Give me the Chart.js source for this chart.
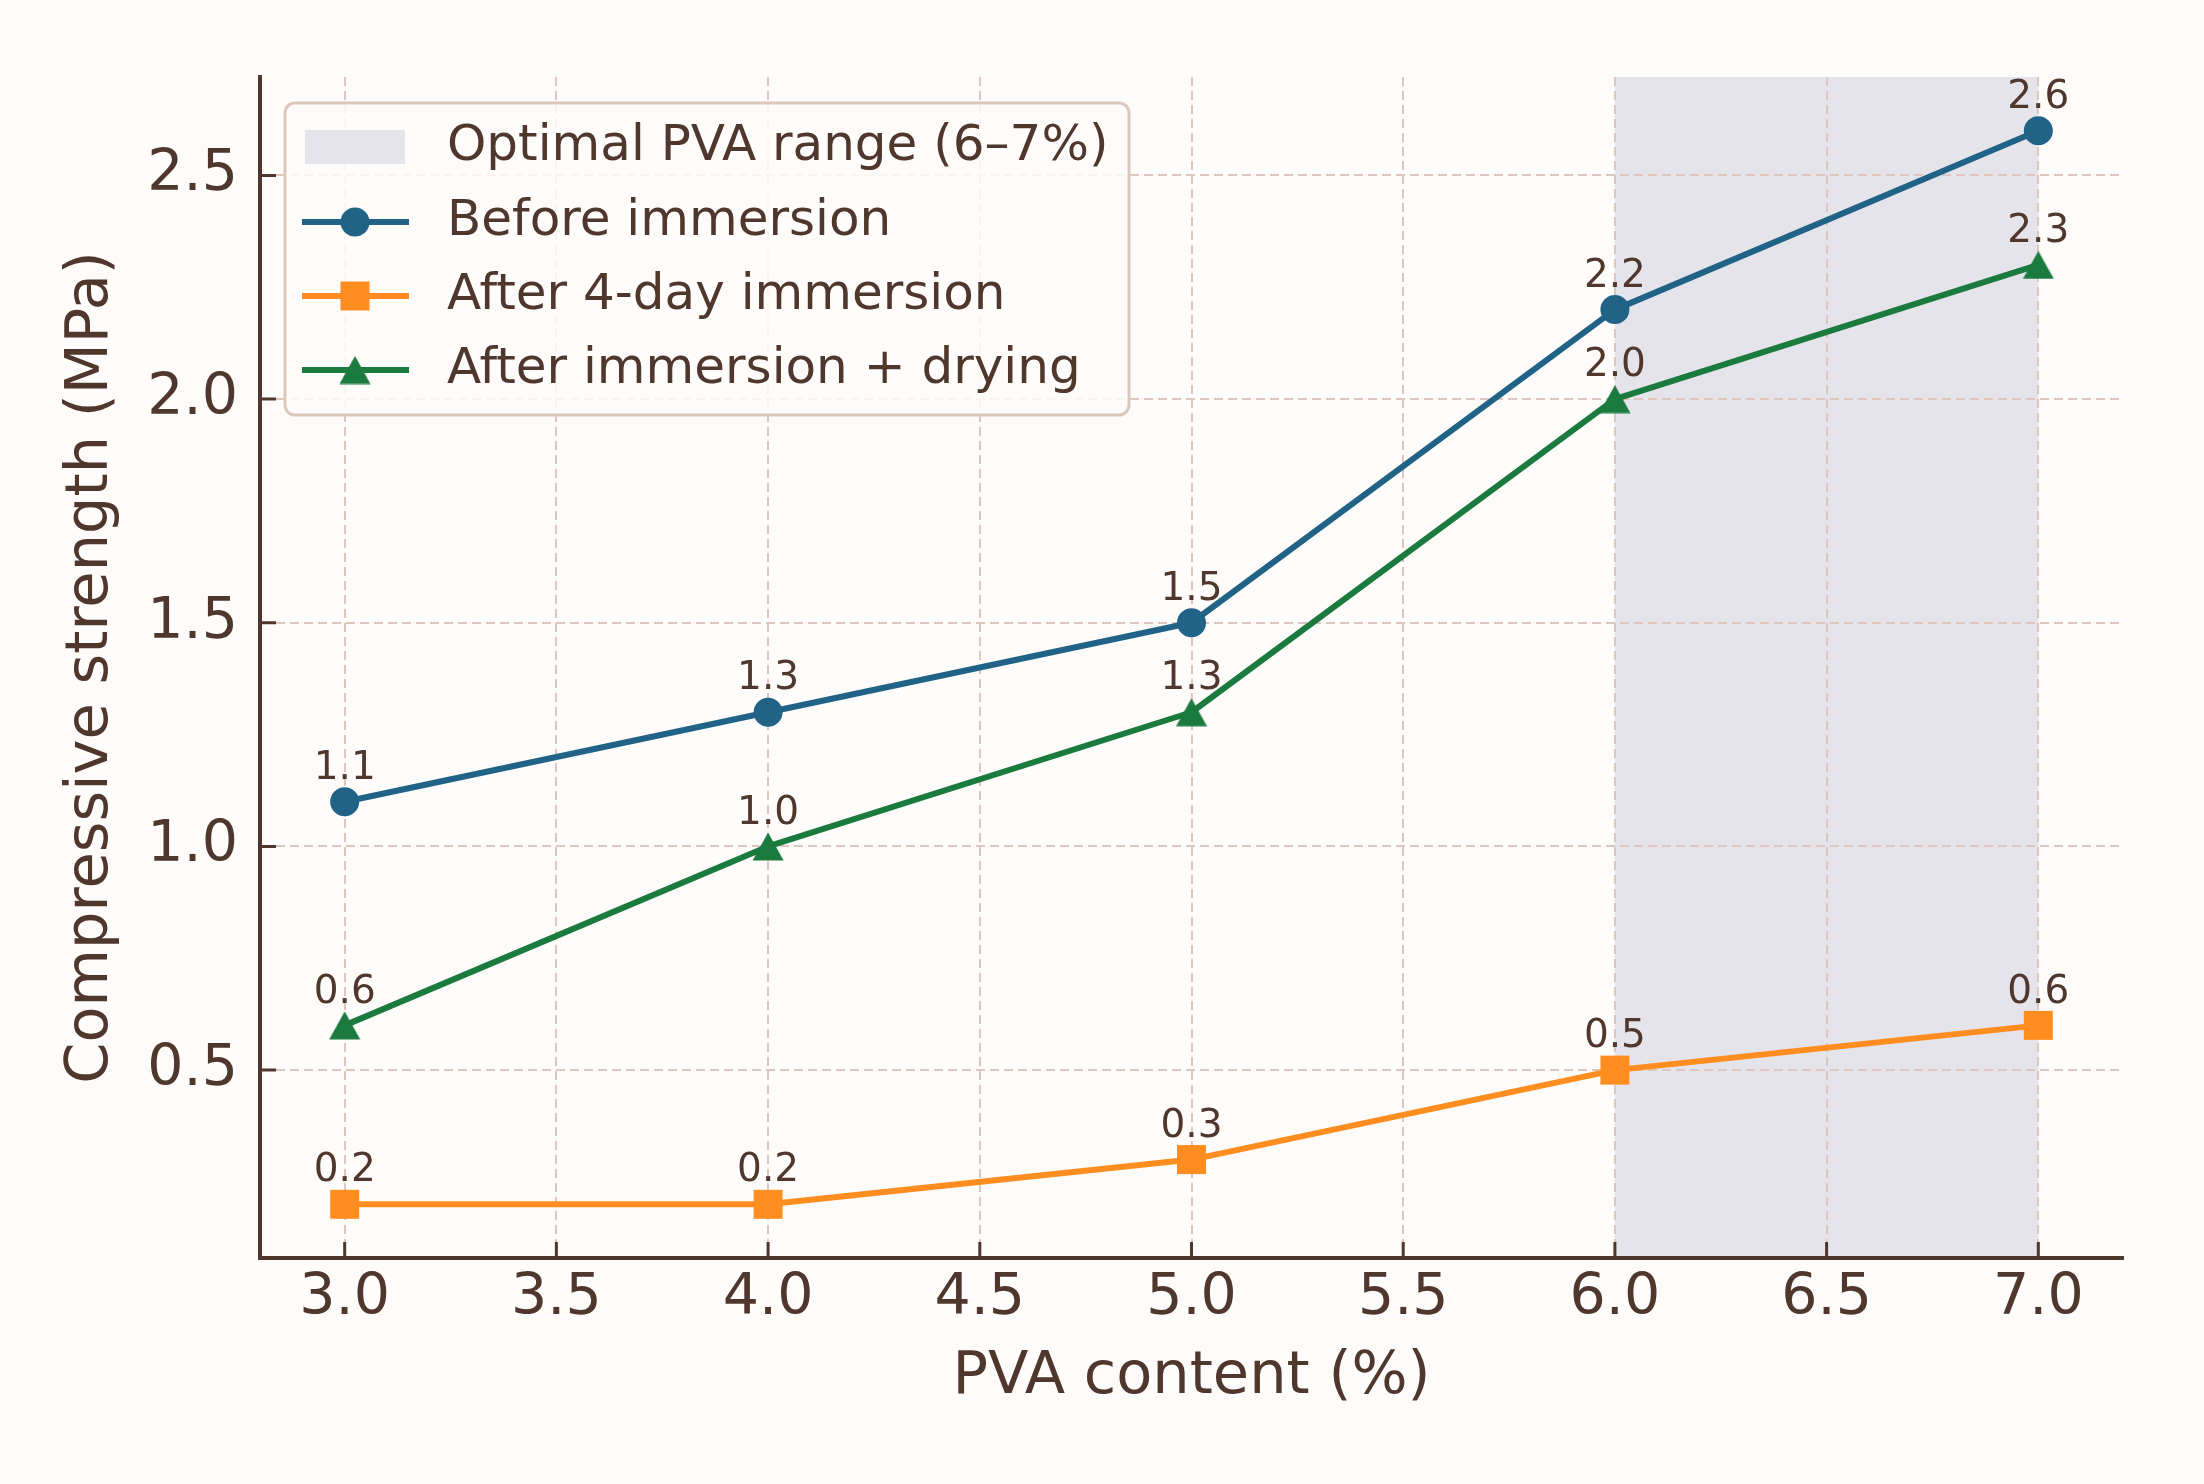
<!DOCTYPE html>
<html><head><meta charset="utf-8">
<script src="https://cdn.jsdelivr.net/npm/chart.js@4.4.1/dist/chart.umd.min.js"></script>
<style>html,body{margin:0;padding:0;background:#fdfcfa;} canvas{display:block;}</style>
</head><body>
<canvas id="c" width="2204" height="1484" style="width:2204px;height:1484px"></canvas>
<script>
// ---- data ----
const pvaContent = [3.0, 4.0, 5.0, 6.0, 7.0];
const beforeImmersion = [1.1, 1.3, 1.5, 2.2, 2.6];
const after4DayImmersion = [0.2, 0.2, 0.3, 0.5, 0.6];
const afterImmersionDrying = [0.6, 1.0, 1.3, 2.0, 2.3];
const seriesNames = ['Before immersion', 'After 4-day immersion', 'After immersion + drying'];
const xTicks = [3.0, 3.5, 4.0, 4.5, 5.0, 5.5, 6.0, 6.5, 7.0];
const yTicks = [0.5, 1.0, 1.5, 2.0, 2.5];
const optimalRange = [6, 7];
const optimalLabel = 'Optimal PVA range (6–7%)';
const xTitle = 'PVA content (%)';
const yTitle = 'Compressive strength (MPa)';

// ---- style ----
const FONT = "'DejaVu Sans', sans-serif";
const TEXT = '#4f372d';
const AXIS = '#4f372d';
const GRID = '#dcc6bd';
const SHADE = '#e6e4eb';
const BG = '#fdfcfa';
const BLUE = '#216387';
const ORANGE = '#ff8d20';
const GREEN = '#1b7a3e';

function makeTriangle(color) {
  const c = document.createElement('canvas');
  c.width = 32; c.height = 29;
  const g = c.getContext('2d');
  g.fillStyle = color;
  g.beginPath();
  g.moveTo(16, 0.5); g.lineTo(31.5, 28.5); g.lineTo(0.5, 28.5);
  g.closePath(); g.fill();
  return c;
}
const triangle = makeTriangle(GREEN);

function pts(ys) { return pvaContent.map((x, i) => ({x: x, y: ys[i]})); }

const datasets = [
  {label: seriesNames[0], data: pts(beforeImmersion), borderColor: BLUE, backgroundColor: BLUE,
   pointStyle: 'circle', pointRadius: 14.5, pointBorderWidth: 0},
  {label: seriesNames[1], data: pts(after4DayImmersion), borderColor: ORANGE, backgroundColor: ORANGE,
   pointStyle: 'rect', pointRadius: 20.5, pointBorderWidth: 0},
  {label: seriesNames[2], data: pts(afterImmersionDrying), borderColor: GREEN, backgroundColor: GREEN,
   pointStyle: triangle, pointRadius: 16, pointBorderWidth: 0}
];
datasets.forEach(d => {
  d.borderWidth = 6; d.tension = 0; d.fill = false; d.pointHoverRadius = d.pointRadius;
  d.borderJoinStyle = 'round';
});

const bgShadePlugin = {
  id: 'bgShade',
  beforeDraw(chart) {
    const {ctx, chartArea: a, scales: {x}} = chart;
    ctx.save();
    ctx.fillStyle = BG;
    ctx.fillRect(0, 0, chart.width, chart.height);
    const x1 = x.getPixelForValue(optimalRange[0]);
    const x2 = x.getPixelForValue(optimalRange[1]);
    ctx.fillStyle = SHADE;
    ctx.fillRect(x1, a.top, x2 - x1, a.bottom - a.top);
    ctx.restore();
  }
};

const inTicksPlugin = {
  id: 'inTicks',
  beforeDatasetsDraw(chart) {
    const {ctx, chartArea: a, scales: {x, y}} = chart;
    ctx.save();
    ctx.strokeStyle = AXIS; ctx.lineWidth = 3;
    ctx.beginPath();
    xTicks.forEach(v => { const px = x.getPixelForValue(v); ctx.moveTo(px, a.bottom); ctx.lineTo(px, a.bottom - 16); });
    yTicks.forEach(v => { const py = y.getPixelForValue(v); ctx.moveTo(a.left, py); ctx.lineTo(a.left + 16, py); });
    ctx.stroke();
    ctx.restore();
  }
};

const valueLabelPlugin = {
  id: 'valueLabels',
  afterDatasetsDraw(chart) {
    const ctx = chart.ctx;
    ctx.save();
    ctx.font = '39px ' + FONT;
    ctx.fillStyle = TEXT;
    ctx.textAlign = 'center';
    ctx.textBaseline = 'middle';
    chart.data.datasets.forEach((ds, i) => {
      chart.getDatasetMeta(i).data.forEach((p, j) => {
        ctx.fillText(ds.data[j].y.toFixed(1), p.x, p.y - 33);
      });
    });
    ctx.restore();
  }
};

const legendPlugin = {
  id: 'boxLegend',
  afterDraw(chart) {
    const {ctx, chartArea: a} = chart;
    const L = a.left + 25, T = a.top + 26, W = 844, H = 312;
    ctx.save();
    ctx.beginPath();
    ctx.roundRect(L, T, W, H, 10);
    ctx.fillStyle = 'rgba(253,252,250,0.85)';
    ctx.fill();
    ctx.lineWidth = 3;
    ctx.strokeStyle = '#dcc7bc';
    ctx.stroke();
    const rows = [T + 44, T + 119, T + 193, T + 267];
    ctx.font = '50px ' + FONT;
    ctx.textAlign = 'left';
    ctx.textBaseline = 'middle';
    ctx.fillStyle = SHADE;
    ctx.fillRect(L + 20, rows[0] - 17, 100, 34);
    ctx.fillStyle = TEXT;
    ctx.fillText(optimalLabel, L + 162, rows[0]);
    chart.data.datasets.forEach((ds, i) => {
      const ry = rows[i + 1];
      ctx.strokeStyle = ds.borderColor;
      ctx.lineWidth = 6;
      ctx.beginPath();
      ctx.moveTo(L + 17, ry); ctx.lineTo(L + 124, ry);
      ctx.stroke();
      ctx.fillStyle = ds.backgroundColor;
      Chart.helpers.drawPoint(ctx, {pointStyle: ds.pointStyle, radius: ds.pointRadius, rotation: 0, borderWidth: 0}, L + 70, ry);
      ctx.fillStyle = TEXT;
      ctx.fillText(ds.label, L + 162, ry);
    });
    ctx.restore();
  }
};

new Chart(document.getElementById('c'), {
  type: 'line',
  data: {datasets: datasets},
  plugins: [bgShadePlugin, inTicksPlugin, valueLabelPlugin, legendPlugin],
  options: {
    responsive: false,
    devicePixelRatio: 1,
    animation: false,
    layout: {padding: {left: 0, top: 77, right: 81, bottom: 0}},
    plugins: {legend: {display: false}, tooltip: {enabled: false}},
    scales: {
      x: {
        type: 'linear', min: 2.8, max: 7.2,
        afterBuildTicks(s) { s.ticks = xTicks.map(v => ({value: v})); },
        afterFit(s) { s.height = 226; },
        ticks: {color: TEXT, font: {family: FONT, size: 57}, padding: 7, callback: v => Number(v).toFixed(1), maxRotation: 0, autoSkip: false},
        grid: {color: GRID, lineWidth: 2, drawTicks: false},
        border: {display: true, color: AXIS, width: 4, dash: [9, 5]},
        title: {display: true, text: xTitle, color: TEXT, font: {family: FONT, size: 59}, padding: {top: 0, bottom: 71}}
      },
      y: {
        type: 'linear', min: 0.08, max: 2.72,
        afterBuildTicks(s) { s.ticks = yTicks.map(v => ({value: v})); },
        afterFit(s) { s.width = 260; },
        ticks: {color: TEXT, font: {family: FONT, size: 57}, padding: 22, callback: v => Number(v).toFixed(1), autoSkip: false},
        grid: {color: GRID, lineWidth: 2, drawTicks: false},
        border: {display: true, color: AXIS, width: 4, dash: [9, 5]},
        title: {display: true, text: yTitle, color: TEXT, font: {family: FONT, size: 59}, padding: {top: 56, bottom: 0}}
      }
    }
  }
});
</script>
</body></html>
